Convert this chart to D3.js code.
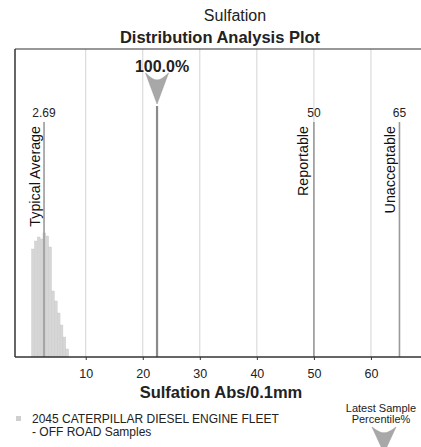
<!DOCTYPE html>
<html><head><meta charset="utf-8">
<script src="https://cdn.jsdelivr.net/npm/d3@7"></script>
<style>body{margin:0;background:#fff}svg{display:block;font-family:"Liberation Sans",Arial,sans-serif}</style>
</head><body><svg id="c" width="421" height="447"></svg>
<script>
const title1 = "Sulfation";
const title2 = "Distribution Analysis Plot";
const xLabel = "Sulfation Abs/0.1mm";
const xTicks = [10, 20, 30, 40, 50, 60];
const binStarts = [0.5, 1.0, 1.5, 2.0, 2.5, 3.0, 3.5, 4.0, 4.5, 5.0, 5.5, 6.0, 6.5];
const binCounts = [108, 116, 120, 118, 124, 121, 110, 66, 56, 44, 32, 20, 8];
const binWidth = 0.5;
const limitNames = ["Typical Average", "Reportable", "Unacceptable"];
const limitValues = [2.69, 50, 65];
const limitLabels = ["2.69", "50", "65"];
const latestValue = 22.5;
const latestPct = "100.0%";
const legendText = ["2045 CATERPILLAR DIESEL ENGINE FLEET", "- OFF ROAD Samples"];
const latestLegend = ["Latest Sample", "Percentile%"];

const svg = d3.select("#c");
const L = 15, R = 424, T = 49, B = 357;
const x = d3.scaleLinear().domain([-2.4, 69.3]).range([L, R]);
const y = d3.scaleLinear().domain([0, 130]).range([B, B - 130]);

// titles
svg.append("text").attr("x", 235).attr("y", 21).attr("text-anchor", "middle")
  .attr("font-size", 16).attr("fill", "#222").text(title1);
svg.append("text").attr("x", 220).attr("y", 43).attr("text-anchor", "middle")
  .attr("font-size", 16.5).attr("font-weight", "bold").attr("fill", "#222").text(title2);

// grid
svg.append("g").selectAll("line").data(xTicks).join("line")
  .attr("x1", d => x(d)).attr("x2", d => x(d)).attr("y1", T).attr("y2", B)
  .attr("stroke", "#d4d4d4").attr("stroke-width", 1);

// histogram
svg.append("g").selectAll("rect").data(binStarts).join("rect")
  .attr("x", d => x(d)).attr("width", d => x(d + binWidth) - x(d))
  .attr("y", (d, i) => y(binCounts[i])).attr("height", (d, i) => B - y(binCounts[i]))
  .attr("fill", "#d6d6d6").attr("stroke", "#c8c8c8").attr("stroke-width", 0.4);

// limit lines
const lim = svg.append("g");
const offs = [4, 5.5, 4.5];
limitValues.forEach((v, i) => {
  const xv = x(v);
  lim.append("line").attr("x1", xv).attr("x2", xv).attr("y1", 122).attr("y2", B)
    .attr("stroke", "#9a9a9a").attr("stroke-width", 1.6);
  lim.append("text").attr("x", xv).attr("y", 117).attr("text-anchor", "middle")
    .attr("font-size", 12).attr("fill", "#222").text(limitLabels[i]);
  lim.append("text").attr("transform", `translate(${xv - offs[i]},126) rotate(-90)`)
    .attr("text-anchor", "end").attr("font-size", 14.3).attr("fill", "#111").text(limitNames[i]);
});

// latest sample
const xl = x(latestValue);
svg.append("line").attr("x1", xl).attr("x2", xl).attr("y1", 106).attr("y2", B)
  .attr("stroke", "#8a8a8a").attr("stroke-width", 2.2);
const arrow = (cx, top, w, h) => `M${cx - w / 2},${top} Q${cx - w * 0.15},${top + h * 0.25} ${cx},${top + h * 0.22} Q${cx + w * 0.15},${top + h * 0.25} ${cx + w / 2},${top} L${cx},${top + h} Z`;
svg.append("path").attr("d", arrow(xl, 73, 23, 31)).attr("fill", "#a8a8a8").attr("stroke", "#999").attr("stroke-width", 0.5);
svg.append("text").attr("x", xl + 5).attr("y", 72).attr("text-anchor", "middle")
  .attr("font-size", 16).attr("font-weight", "bold").attr("fill", "#222").text(latestPct);

// frame
svg.append("line").attr("x1", L).attr("x2", 421).attr("y1", T).attr("y2", T).attr("stroke", "#333").attr("stroke-width", 1.2);
svg.append("line").attr("x1", L).attr("x2", L).attr("y1", T).attr("y2", B).attr("stroke", "#333").attr("stroke-width", 1.5);

// x axis
const ax = svg.append("g").attr("transform", `translate(0,${B})`)
  .call(d3.axisBottom(x).tickValues(xTicks).tickSize(3).tickPadding(9).tickFormat(d3.format("d")));
ax.select(".domain").attr("d", `M${L},0H421`).attr("stroke", "#333").attr("stroke-width", 1.5);
ax.selectAll(".tick line").attr("stroke", "#333");
ax.selectAll("text").attr("font-size", 12.5).attr("font-family", "Liberation Sans, Arial, sans-serif").attr("fill", "#222");

svg.append("text").attr("x", 221).attr("y", 398).attr("text-anchor", "middle")
  .attr("font-size", 16.5).attr("font-weight", "bold").attr("fill", "#222").text(xLabel);

// legend
svg.append("rect").attr("x", 16).attr("y", 416).attr("width", 5).attr("height", 5).attr("fill", "#cfcfcf");
legendText.forEach((t, i) => svg.append("text").attr("x", 32).attr("y", 423 + i * 12.5)
  .attr("font-size", 12).attr("fill", "#222").text(t));

latestLegend.forEach((t, i) => svg.append("text").attr("x", 381).attr("y", 412 + i * 11)
  .attr("text-anchor", "middle").attr("font-size", 11).attr("fill", "#222").text(t));
svg.append("path").attr("d", arrow(384, 427, 24, 26)).attr("fill", "#a8a8a8").attr("stroke", "#999").attr("stroke-width", 0.5);
</script></body></html>
